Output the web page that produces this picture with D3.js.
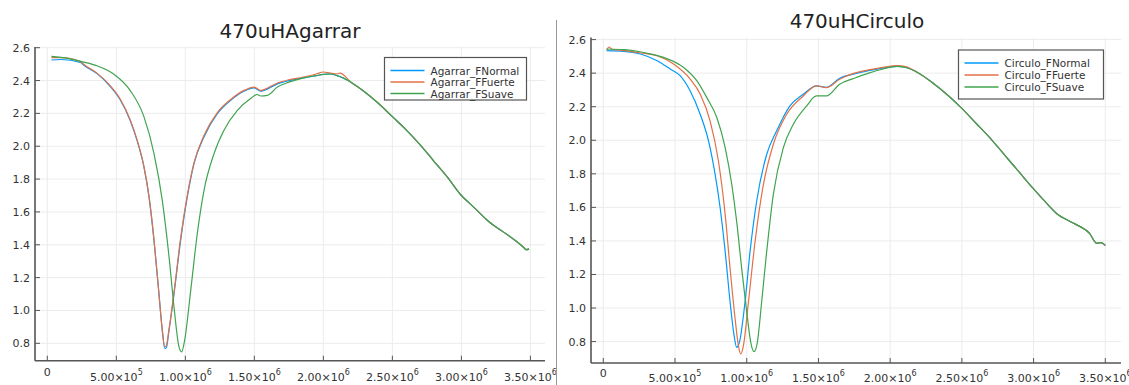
<!DOCTYPE html>
<html>
<head>
<meta charset="utf-8">
<script src="https://cdn.jsdelivr.net/npm/d3@7"></script>
<style>
  html, body { margin: 0; padding: 0; background: #fff; }
  svg { display: block; font-family: "DejaVu Sans", sans-serif; }
</style>
</head>
<body>
<svg id="chart" width="1129" height="385"></svg>
<script>
// ---------------- DATA ----------------
const xTicks = [0, 5e5, 1e6, 1.5e6, 2e6, 2.5e6, 3e6, 3.5e6];
const yTicks = [0.8, 1.0, 1.2, 1.4, 1.6, 1.8, 2.0, 2.2, 2.4, 2.6];
const seriesColors = ["#009AFA", "#E36F47", "#3EA44E"];

const agarrarTitle = "470uHAgarrar";
const circuloTitle = "470uHCirculo";
const agarrarNames = ["Agarrar_FNormal", "Agarrar_FFuerte", "Agarrar_FSuave"];
const circuloNames = ["Circulo_FNormal", "Circulo_FFuerte", "Circulo_FSuave"];

const agarrarFNormal = [
  [0.03e6,2.525],[0.1e6,2.528],[0.24e6,2.51],[0.27e6,2.49],[0.36e6,2.442],[0.46e6,2.36],[0.53e6,2.28],
  [0.60e6,2.158],[0.65e6,2.036],[0.70e6,1.874],[0.737e6,1.69],[0.773e6,1.427],[0.809e6,1.10],
  [0.833e6,0.88],[0.852e6,0.768],[0.862e6,0.772],[0.882e6,0.88],[0.918e6,1.10],[0.966e6,1.427],
  [1.014e6,1.69],[1.063e6,1.894],[1.135e6,2.056],[1.232e6,2.198],[1.329e6,2.28],[1.425e6,2.335],
  [1.50e6,2.355],[1.545e6,2.335],[1.57e6,2.34],[1.667e6,2.38],[1.75e6,2.40],[1.85e6,2.415],
  [1.95e6,2.43],[2.0e6,2.437],[2.05e6,2.44],[2.1e6,2.43],[2.2e6,2.39],[2.3e6,2.33],[2.4e6,2.26],
  [2.5e6,2.18],[2.6e6,2.10],[2.7e6,2.01],[2.8e6,1.91],[2.9e6,1.81],[3.0e6,1.70],[3.05e6,1.66],
  [3.1e6,1.62],[3.2e6,1.54],[3.3e6,1.48],[3.4e6,1.42],[3.45e6,1.385],[3.47e6,1.37],[3.49e6,1.375]
];
const agarrarFFuerte = [
  [0.03e6,2.54],[0.1e6,2.54],[0.24e6,2.515],[0.27e6,2.495],[0.36e6,2.445],[0.46e6,2.365],[0.53e6,2.285],
  [0.60e6,2.162],[0.65e6,2.04],[0.70e6,1.878],[0.737e6,1.695],[0.773e6,1.43],[0.809e6,1.10],
  [0.833e6,0.88],[0.85e6,0.78],[0.86e6,0.782],[0.882e6,0.885],[0.918e6,1.11],[0.966e6,1.44],
  [1.014e6,1.70],[1.063e6,1.90],[1.135e6,2.065],[1.232e6,2.205],[1.329e6,2.285],[1.425e6,2.34],
  [1.50e6,2.36],[1.545e6,2.34],[1.57e6,2.345],[1.667e6,2.385],[1.75e6,2.405],[1.85e6,2.42],
  [1.95e6,2.44],[2.0e6,2.452],[2.05e6,2.445],[2.1e6,2.44],[2.12e6,2.445],[2.2e6,2.39],[2.3e6,2.33],
  [2.4e6,2.26],[2.5e6,2.18],[2.6e6,2.10],[2.7e6,2.01],[2.8e6,1.91],[2.9e6,1.81],[3.0e6,1.70],
  [3.05e6,1.66],[3.1e6,1.62],[3.2e6,1.54],[3.3e6,1.48],[3.4e6,1.42],[3.45e6,1.385],[3.47e6,1.37],[3.49e6,1.375]
];
const agarrarFSuave = [
  [0.03e6,2.547],[0.15e6,2.535],[0.25e6,2.515],[0.36e6,2.49],[0.48e6,2.44],[0.60e6,2.34],[0.70e6,2.18],
  [0.773e6,1.955],[0.833e6,1.67],[0.882e6,1.326],[0.918e6,1.02],[0.954e6,0.778],[0.973e6,0.748],
  [0.995e6,0.818],[1.039e6,1.122],[1.087e6,1.47],[1.135e6,1.73],[1.208e6,1.955],[1.28e6,2.097],
  [1.377e6,2.218],[1.473e6,2.29],[1.52e6,2.315],[1.546e6,2.306],[1.594e6,2.31],[1.667e6,2.36],
  [1.75e6,2.39],[1.85e6,2.415],[1.95e6,2.43],[2.0e6,2.437],[2.05e6,2.44],[2.1e6,2.43],[2.2e6,2.39],
  [2.3e6,2.33],[2.4e6,2.26],[2.5e6,2.18],[2.6e6,2.10],[2.7e6,2.01],[2.8e6,1.91],[2.9e6,1.81],
  [3.0e6,1.70],[3.05e6,1.66],[3.1e6,1.62],[3.2e6,1.54],[3.3e6,1.48],[3.4e6,1.42],[3.45e6,1.385],
  [3.47e6,1.37],[3.49e6,1.375]
];

const circuloFNormal = [
  [0.023e6,2.534],[0.144e6,2.53],[0.259e6,2.514],[0.375e6,2.474],[0.468e6,2.424],[0.537e6,2.384],
  [0.606e6,2.294],[0.676e6,2.154],[0.734e6,1.995],[0.78e6,1.795],[0.815e6,1.595],[0.85e6,1.335],
  [0.884e6,1.036],[0.912e6,0.836],[0.93e6,0.766],[0.949e6,0.796],[0.988e6,1.036],[1.023e6,1.335],
  [1.069e6,1.635],[1.139e6,1.915],[1.208e6,2.055],[1.30e6,2.204],[1.394e6,2.274],[1.486e6,2.324],
  [1.556e6,2.316],[1.648e6,2.37],[1.75e6,2.395],[1.85e6,2.415],[1.95e6,2.43],[2.05e6,2.44],
  [2.1e6,2.435],[2.2e6,2.40],[2.3e6,2.34],[2.4e6,2.27],[2.5e6,2.19],[2.6e6,2.10],[2.7e6,2.01],
  [2.8e6,1.91],[2.9e6,1.81],[3.0e6,1.71],[3.05e6,1.663],[3.16e6,1.564],[3.28e6,1.505],
  [3.39e6,1.445],[3.44e6,1.386],[3.47e6,1.39],[3.5e6,1.372]
];
const circuloFFuerte = [
  [0.023e6,2.538],[0.04e6,2.556],[0.06e6,2.542],[0.15e6,2.534],[0.26e6,2.52],[0.375e6,2.504],
  [0.49e6,2.454],[0.606e6,2.364],[0.676e6,2.274],[0.745e6,2.114],[0.803e6,1.875],[0.85e6,1.555],
  [0.884e6,1.235],[0.919e6,0.936],[0.942e6,0.776],[0.958e6,0.726],[0.977e6,0.776],[1.012e6,1.036],
  [1.058e6,1.395],[1.116e6,1.735],[1.185e6,1.975],[1.278e6,2.154],[1.394e6,2.264],[1.486e6,2.324],
  [1.556e6,2.314],[1.648e6,2.364],[1.75e6,2.40],[1.85e6,2.42],[1.95e6,2.435],[2.05e6,2.445],
  [2.1e6,2.44],[2.2e6,2.40],[2.3e6,2.34],[2.4e6,2.27],[2.5e6,2.19],[2.6e6,2.10],[2.7e6,2.01],
  [2.8e6,1.91],[2.9e6,1.81],[3.0e6,1.71],[3.05e6,1.663],[3.16e6,1.564],[3.28e6,1.505],
  [3.39e6,1.445],[3.44e6,1.386],[3.47e6,1.39],[3.5e6,1.372]
];
const circuloFSuave = [
  [0.023e6,2.544],[0.15e6,2.54],[0.30e6,2.52],[0.421e6,2.494],[0.56e6,2.434],[0.653e6,2.354],
  [0.722e6,2.254],[0.792e6,2.134],[0.85e6,1.955],[0.896e6,1.735],[0.93e6,1.515],[0.965e6,1.235],
  [1.0e6,0.976],[1.028e6,0.796],[1.051e6,0.74],[1.074e6,0.796],[1.104e6,1.036],[1.139e6,1.335],
  [1.185e6,1.675],[1.255e6,1.955],[1.324e6,2.094],[1.417e6,2.204],[1.486e6,2.264],[1.556e6,2.264],
  [1.648e6,2.334],[1.75e6,2.37],[1.85e6,2.40],[1.95e6,2.425],[2.05e6,2.44],[2.1e6,2.435],
  [2.2e6,2.40],[2.3e6,2.34],[2.4e6,2.27],[2.5e6,2.19],[2.6e6,2.10],[2.7e6,2.01],[2.8e6,1.91],
  [2.9e6,1.81],[3.0e6,1.71],[3.05e6,1.663],[3.16e6,1.564],[3.28e6,1.505],[3.39e6,1.445],
  [3.44e6,1.386],[3.47e6,1.39],[3.5e6,1.375]
];

// ---------------- DRAW ----------------
const svg = d3.select("#chart");

function drawPanel(p) {
  const x = d3.scaleLinear().domain([0, 3.5e6]).range([p.x0, p.x35]);
  const y = d3.scaleLinear().domain([0.8, 2.6]).range([p.y08, p.y26]);
  const g = svg.append("g");

  // grid
  g.selectAll(".gx").data(xTicks).join("line")
    .attr("x1", d => x(d)).attr("x2", d => x(d))
    .attr("y1", p.top).attr("y2", p.bottom)
    .attr("stroke", "#ececec").attr("stroke-width", 1);
  g.selectAll(".gy").data(yTicks).join("line")
    .attr("x1", p.left).attr("x2", p.right)
    .attr("y1", d => y(d)).attr("y2", d => y(d))
    .attr("stroke", "#ececec").attr("stroke-width", 1);

  // lines
  const line = d3.line().x(d => x(d[0])).y(d => y(d[1])).curve(d3.curveMonotoneX);
  p.series.forEach((s, i) => {
    g.append("path").datum(s)
      .attr("fill", "none")
      .attr("stroke", seriesColors[i])
      .attr("stroke-width", 1.2)
      .attr("stroke-linejoin", "round")
      .attr("d", line);
  });

  // axes
  g.append("line").attr("x1", p.left).attr("x2", p.left).attr("y1", p.top).attr("y2", p.bottom)
    .attr("stroke", "#555").attr("stroke-width", 1.6);
  g.append("line").attr("x1", p.left).attr("x2", p.right).attr("y1", p.bottom).attr("y2", p.bottom)
    .attr("stroke", "#555").attr("stroke-width", 1.6);

  // ticks
  g.selectAll(".tx").data(xTicks).join("line")
    .attr("x1", d => x(d)).attr("x2", d => x(d))
    .attr("y1", p.bottom).attr("y2", p.bottom - 5)
    .attr("stroke", "#555").attr("stroke-width", 1);
  g.selectAll(".ty").data(yTicks).join("line")
    .attr("x1", p.left).attr("x2", p.left + 5)
    .attr("y1", d => y(d)).attr("y2", d => y(d))
    .attr("stroke", "#555").attr("stroke-width", 1);

  // y tick labels
  g.selectAll(".ly").data(yTicks).join("text")
    .attr("x", p.left - 5).attr("y", d => y(d) + 4)
    .attr("text-anchor", "end").attr("font-size", 11).attr("fill", "#333")
    .text(d => d.toFixed(1));

  // x tick labels
  xTicks.forEach(v => {
    const t = g.append("text")
      .attr("x", x(v)).attr("text-anchor", "middle")
      .attr("font-size", 11).attr("fill", "#333");
    if (v === 0) {
      t.attr("y", p.lab0).text("0");
    } else {
      const e = Math.floor(Math.log10(v));
      const m = (v / Math.pow(10, e)).toFixed(2);
      t.attr("y", p.labE);
      t.append("tspan").text(m + "×10");
      t.append("tspan").attr("dy", -6).attr("font-size", 8).text(String(e));
    }
  });

  // title
  g.append("text").attr("x", p.titleX).attr("y", p.titleY)
    .attr("text-anchor", "middle").attr("font-size", 20).attr("fill", "#222")
    .text(p.title);

  // legend
  const L = p.legend;
  g.append("rect").attr("x", L.x).attr("y", L.y).attr("width", L.w).attr("height", L.h)
    .attr("fill", "#fff").attr("stroke", "#555").attr("stroke-width", 1.2);
  p.names.forEach((n, i) => {
    const yy = L.y + L.first + i * L.step;
    g.append("line").attr("x1", L.x + 6).attr("x2", L.x + 40)
      .attr("y1", yy).attr("y2", yy)
      .attr("stroke", seriesColors[i]).attr("stroke-width", 1.5);
    g.append("text").attr("x", L.x + 46).attr("y", yy + 4)
      .attr("font-size", 10.5).attr("fill", "#333").text(n);
  });
}

drawPanel({
  left: 35, right: 545, top: 47, bottom: 360.7,
  x0: 47.3, x35: 530.4, y08: 343.3, y26: 47.7,
  lab0: 375.5, labE: 380.5,
  title: agarrarTitle, titleX: 290, titleY: 38,
  series: [agarrarFNormal, agarrarFFuerte, agarrarFSuave],
  names: agarrarNames,
  legend: { x: 384.5, y: 57.5, w: 142, h: 42.5, first: 13, step: 11.5 }
});

drawPanel({
  left: 591, right: 1121, top: 37.5, bottom: 363,
  x0: 603.3, x35: 1105.3, y08: 341.6, y26: 39.6,
  lab0: 377, labE: 381.5,
  title: circuloTitle, titleX: 857, titleY: 28,
  series: [circuloFNormal, circuloFFuerte, circuloFSuave],
  names: circuloNames,
  legend: { x: 958.5, y: 50, w: 145, h: 49, first: 13, step: 12 }
});

// separator
svg.append("line").attr("x1", 556.5).attr("x2", 556.5).attr("y1", 20).attr("y2", 385)
  .attr("stroke", "#999").attr("stroke-width", 1);
</script>
</body>
</html>
